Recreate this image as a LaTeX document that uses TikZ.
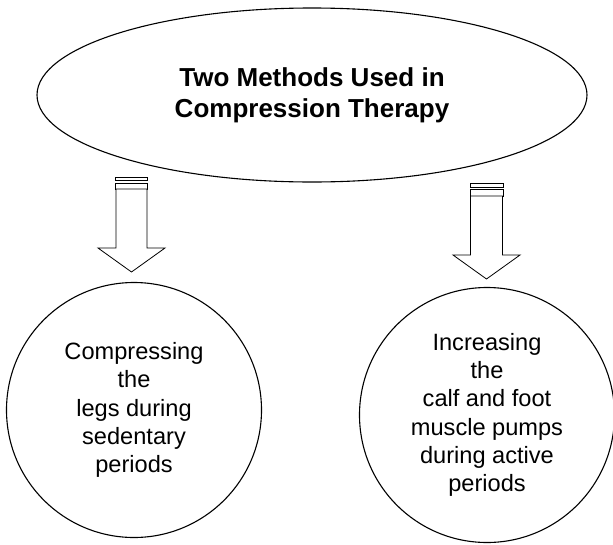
\documentclass[tikz,border=0pt]{standalone}
\usepackage{fontspec}
\setmainfont{Liberation Sans}
\usetikzlibrary{shapes.geometric}
\tikzset{
  titleshape/.style={ellipse, draw=black, line width=1.1pt, minimum width=550pt, minimum height=174pt, inner sep=0pt,
    align=center, font=\fontsize{26}{31}\selectfont\bfseries},
  roundbox/.style={circle, draw=black, line width=1.1pt, minimum size=255pt, inner sep=0pt,
    align=center, font=\fontsize{23.6}{28.3}\selectfont},
  blockarrow/.style={draw=black, line width=0.8pt, fill=white, line join=miter}
}
\begin{document}
\begin{tikzpicture}[x=1pt,y=-1pt]
\useasboundingbox (0,0) rectangle (613,544);
\node[titleshape] (title) at (312,95) {Two Methods Used in\\Compression Therapy};
\node[roundbox] (left) at (134,410) {Compressing\\the\\legs during\\sedentary\\periods};
\node[roundbox] (right) at (487,415) {Increasing\\the\\calf and foot\\muscle pumps\\during active\\periods};
% left block arrow
\draw[blockarrow] (115.5,177) rectangle (147.5,180.5);
\draw[blockarrow] (115.5,183) rectangle (147.5,189);
\draw[blockarrow] (116,189) -- (116,248) -- (98,248) -- (131.5,272) -- (165,248) -- (147,248) -- (147,189) -- cycle;
% right block arrow
\draw[blockarrow] (470,183) rectangle (503,187);
\draw[blockarrow] (470,189.5) rectangle (503,196);
\draw[blockarrow] (470.5,196) -- (470.5,255) -- (453,255) -- (486.5,279) -- (520,255) -- (502.5,255) -- (502.5,196) -- cycle;
\end{tikzpicture}
\end{document}
